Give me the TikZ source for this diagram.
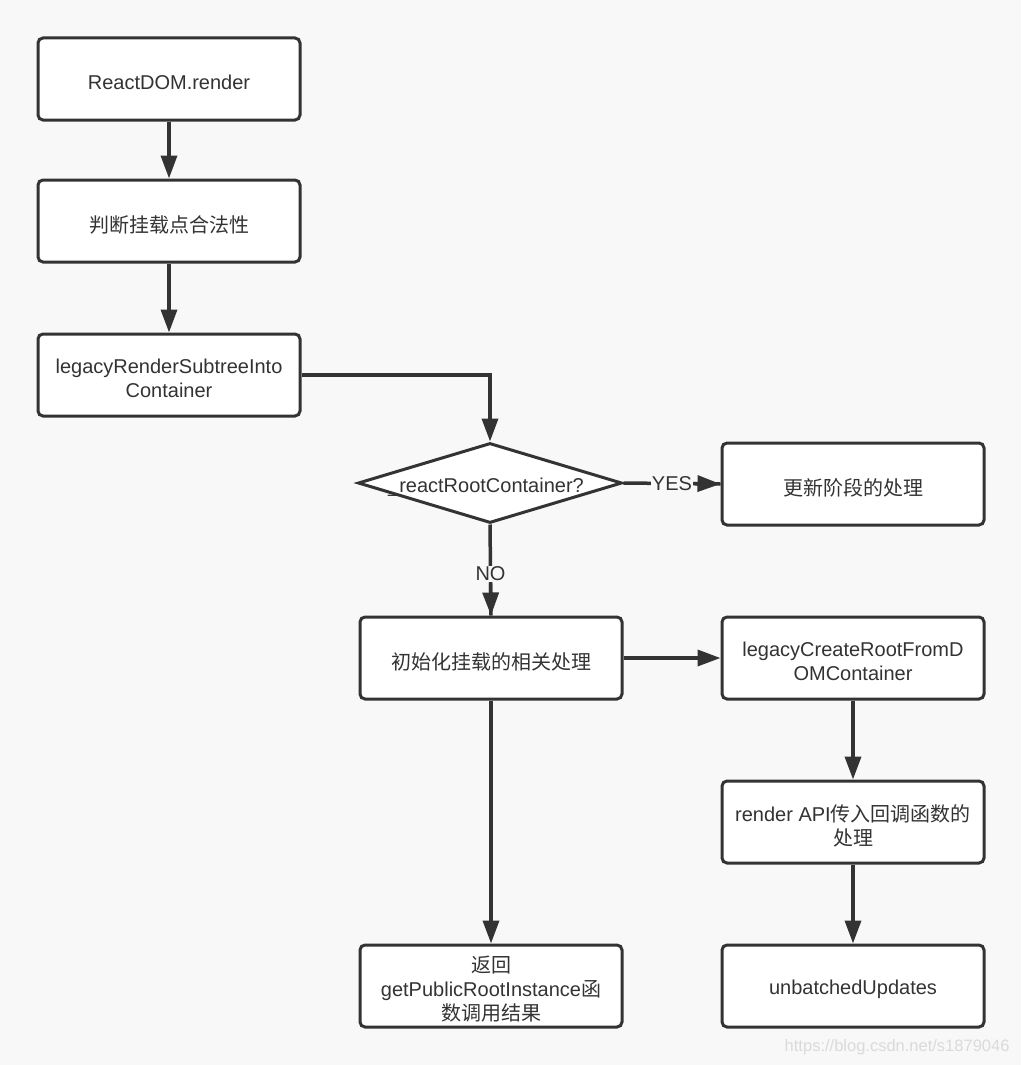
\documentclass[tikz,border=0pt]{standalone}
\usepackage{fontspec}
\setmainfont{Liberation Sans}
\newfontfamily\cjk{Noto Sans CJK SC}
\usetikzlibrary{arrows.meta,shapes.geometric}
\definecolor{bg}{HTML}{F8F8F8}
\definecolor{ln}{HTML}{333333}
\definecolor{tx}{HTML}{333333}
\definecolor{wm}{HTML}{DADADA}
\tikzset{
  pbox/.style={draw=ln, fill=white, line width=3pt, rounded corners=5pt,
    minimum width=262pt, minimum height=82pt, inner sep=0pt},
  ptext/.style={align=center, text=tx, inner sep=0pt,
    font=\fontsize{20}{24}\selectfont},
  dia/.style={draw=ln, fill=white, line width=3pt, diamond, aspect=3.3,
    minimum width=264pt, minimum height=80pt, inner sep=0pt},
  conn/.style={draw=ln, line width=3.5pt,
    -{Triangle[length=23pt,width=16pt]}},
  plain/.style={draw=ln, line width=3.5pt},
  lbl/.style={fill=bg, text=tx, inner sep=1pt, font=\fontsize{20}{24}\selectfont}
}
\newcommand\flowbox[3]{%
  \node[pbox] (#1) at (#2) {};
  \node[ptext] (#1t) at ([yshift=-3.5pt]#1.center) {#3};
}
\begin{document}
\begin{tikzpicture}[x=1pt,y=-1pt]
\fill[bg] (0,0) rectangle (1021,1065);
\useasboundingbox (0,0) rectangle (1021,1065);

\flowbox{a}{169,79}{ReactDOM.render}
\flowbox{b}{169,221}{\cjk 判断挂载点合法性}
\flowbox{c}{169,375}{legacyRenderSubtreeInto\\Container}
\node[dia] (d) at (490,483) {};
\node[ptext] (dt) at (486,487) {\_reactRootContainer?};
\flowbox{e}{853,484}{\cjk 更新阶段的处理}
\flowbox{f}{491,658}{\cjk 初始化挂载的相关处理}
\flowbox{g}{853,658}{legacyCreateRootFromD\\OMContainer}
\flowbox{h}{853,822}{render API{\cjk 传入回调函数的}\\{\cjk 处理}}
\flowbox{i}{491,986}{{\cjk 返回}\\getPublicRootInstance{\cjk 函}\\{\cjk 数调用结果}}
\flowbox{j}{853,986}{unbatchedUpdates}

\draw[conn] (a) -- (b);
\draw[conn] (b) -- (c);
\draw[conn] (c.east) -| (d.north);
\draw[plain] (d.east) -- node[lbl, pos=0.5] (yes) {YES} (e.west);
\draw[conn] (yes.east) -- (e.west);
\draw[plain] (d.south) -- node[lbl, pos=0.54] (no) {NO} (f.north);
\draw[conn] (no.south) -- (f.north);
\draw[conn] (f) -- (g);
\draw[conn] (f) -- (i);
\draw[conn] (g) -- (h);
\draw[conn] (h) -- (j);

\node[text=wm, anchor=east, font=\fontsize{16.5}{18}\selectfont] (wmk) at (1013,1047) {https://blog.csdn.net/s1879046};
\end{tikzpicture}
\end{document}
